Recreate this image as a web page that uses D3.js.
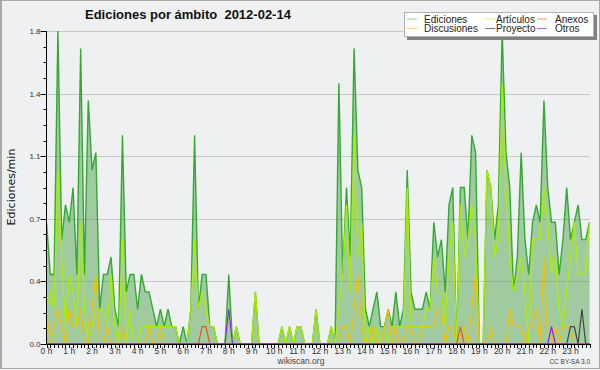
<!DOCTYPE html>
<html>
<head>
<meta charset="utf-8">
<script src="https://cdn.jsdelivr.net/npm/d3@7"></script>
<style>
  body { margin: 0; background: #fff; }
  svg text { font-family: "Liberation Sans", Arial, sans-serif; }
</style>
</head>
<body>
<svg id="chart" width="600" height="370"></svg>
<script>
// edits per minute, one value every 10 minutes (00:00 .. 23:50)
const ediciones = [
  0.7,0.4,0.4,1.8,0.6,0.8,0.7,0.9,0.4,1.7,0.4,1.4,1.0,1.1,0.2,0.4,0.4,0.5,0.2,0.1,1.2,0.3,0.4,0.4,
  0.2,0.4,0.3,0.3,0.2,0.1,0.2,0.1,0.2,0.1,0.1,0,0.1,0,0.2,1.2,0.2,0.4,0.4,0.1,0.1,0,0,0,
  0.4,0,0.1,0,0,0,0,0.3,0,0,0,0,0,0,0.1,0,0.1,0,0.1,0.1,0,0,0,0.2,
  0,0,0,0.1,0,1.5,0.4,0.9,0.5,1.7,1.0,0.9,0.2,0.1,0.2,0.3,0.1,0.1,0.2,0.1,0.3,0.1,0.2,1.0,
  0.3,0.2,0.2,0.2,0.3,0.2,0.7,0.5,0.6,0.3,0.8,0.9,0,0.9,0.9,0.6,1.2,1.1,0,0,1.0,0.9,0.6,0.8,
  1.8,1.1,0.9,0.3,0.5,1.1,0.6,0.4,0.7,0.8,0.7,1.4,0.9,0.7,0.7,0.4,0.6,0.9,0.6,0.7,0.8,0.6,0.6,0.7
];
const articulos = [
  0.2,0.3,0.2,1.0,0.5,0.1,0.4,0.3,0.1,0.7,0.2,0,0.1,0.2,0.2,0.2,0.1,0.4,0.1,0,0.6,0,0.2,0,
  0,0.1,0.1,0.1,0.1,0.1,0.1,0.1,0.1,0.1,0.1,0,0,0,0.2,0.6,0.2,0.3,0.2,0.1,0.1,0,0,0,
  0.2,0,0.1,0,0,0,0,0.3,0,0,0,0,0,0,0.1,0,0.1,0,0.1,0.1,0,0,0,0.2,
  0,0,0,0.1,0,0.2,0.4,0.8,0.3,1.2,0.5,0.7,0,0.1,0,0.1,0,0.1,0,0.1,0.1,0.1,0.1,0.9,
  0.1,0.1,0.1,0.1,0.2,0.2,0.5,0.3,0.3,0.1,0.5,0.7,0,0.8,0.5,0.6,0.8,0.6,0,0,1.0,0.9,0.5,0.6,
  1.5,0.9,0.5,0.3,0.4,0.5,0.3,0,0.6,0.6,0.6,0.9,0.7,0.4,0.5,0.2,0.1,0.3,0.5,0.7,0.4,0.4,0.4,0.7
];
const discusiones = [
  0.2,0,0.1,0.2,0.1,0,0.2,0.1,0.1,0.2,0,0,0.2,0.4,0,0,0.1,0,0,0,0.1,0,0,0,
  0,0,0,0.1,0,0,0.1,0,0,0,0,0,0,0,0,0,0,0,0,0,0,0,0,0,
  0,0,0,0,0,0,0,0,0,0,0,0,0,0,0,0,0,0,0,0,0,0,0,0,
  0,0,0,0,0,0,0.1,0.1,0,0.2,0.4,0.1,0,0,0.1,0,0,0.1,0.2,0,0.1,0,0,0.1,
  0.1,0,0,0.1,0.1,0.1,0.1,0.2,0.2,0,0.1,0.1,0,0,0.1,0,0.2,0.4,0,0,0,0.1,0,0,
  0,0,0.2,0.1,0.1,0.1,0,0.1,0.1,0.2,0,0.5,0,0,0.1,0,0.1,0.1,0.1,0,0,0,0,0
];
// sparse series: [slot index, value]
const anexos = [[41, 0.1], [42, 0.1], [109, 0.1]];
const proyecto = [[138, 0.1], [139, 0.1], [141, 0.2]];
const otros = [[48, 0.2], [133, 0.1]];

const yTicks = [0, 0.36, 0.72, 1.08, 1.44, 1.8];
const hourLabels = d3.range(24).map(h => h + " h");

const legendItems = [
  { name: "Ediciones", color: "#8fd08f" },
  { name: "Artículos", color: "#d4f07a" },
  { name: "Anexos", color: "#f7936a" },
  { name: "Discusiones", color: "#f8d860" },
  { name: "Proyecto", color: "#777777" },
  { name: "Otros", color: "#a870f0" }
];

const W = 600, H = 370;
const plot = { left: 46.5, right: 589.5, top: 31, bottom: 344 };

const svg = d3.select("#chart");

svg.append("rect").attr("width", W).attr("height", H).attr("fill", "#eff0f2");
// frame
svg.append("rect").attr("x", 0.5).attr("y", 0.5).attr("width", W - 1).attr("height", H - 2)
  .attr("fill", "none").attr("stroke", "#a8a8a8");
svg.append("line").attr("x1", 1.5).attr("x2", 1.5).attr("y1", 0).attr("y2", H - 1)
  .attr("stroke", "#a8a8a8");
svg.append("line").attr("x1", 0).attr("x2", W).attr("y1", H - 1.5).attr("y2", H - 1.5)
  .attr("stroke", "#a8a8a8");

const x = d3.scaleLinear().domain([0, 143]).range([plot.left, plot.right]);
const y = d3.scaleLinear().domain([0, 1.8]).range([plot.bottom, plot.top]);

// grid
svg.append("g").selectAll("line").data(yTicks.slice(1)).join("line")
  .attr("x1", plot.left).attr("x2", plot.right)
  .attr("y1", d => Math.round(y(d)) + 0.5).attr("y2", d => Math.round(y(d)) + 0.5)
  .attr("stroke", "#c8c8c8");

function dense(pairs) {
  const arr = new Array(ediciones.length).fill(0);
  pairs.forEach(([i, v]) => { arr[i] = v; });
  return arr;
}

const area = d3.area().x((d, i) => x(i)).y0(y(0)).y1(d => y(d));
const line = d3.line().x((d, i) => x(i)).y(d => y(d));

svg.append("path").datum(ediciones).attr("d", area)
  .attr("fill", "#339933").attr("fill-opacity", 0.42);

const series = [
  { data: articulos, color: "#aaee00", width: 1.3 },
  { data: discusiones, color: "#f2c000", width: 1.2 },
  { data: dense(anexos), color: "#ee5511", width: 1.2 },
  { data: dense(proyecto), color: "#444444", width: 1.2 },
  { data: dense(otros), color: "#8822ee", width: 1.2 }
];

svg.append("path").datum(ediciones).attr("d", line)
  .attr("fill", "none").attr("stroke", "#33aa33").attr("stroke-width", 1.4);

series.forEach(s => {
  svg.append("path").datum(s.data).attr("d", line)
    .attr("fill", "none").attr("stroke", s.color).attr("stroke-width", s.width)
    .attr("stroke-linejoin", "miter");
});

// y axis
const yAxis = svg.append("g");
yAxis.append("line").attr("x1", plot.left).attr("x2", plot.left)
  .attr("y1", plot.top).attr("y2", plot.bottom).attr("stroke", "#000");
const yMinor = d3.range(0, 21).map(k => k * 0.09);
yAxis.selectAll(".ym").data(yMinor).join("line")
  .attr("x1", plot.left - 3).attr("x2", plot.left)
  .attr("y1", d => Math.round(y(d)) + 0.5).attr("y2", d => Math.round(y(d)) + 0.5)
  .attr("stroke", "#000");
yAxis.selectAll(".yM").data(yTicks).join("line")
  .attr("x1", plot.left - 6).attr("x2", plot.left)
  .attr("y1", d => Math.round(y(d)) + 0.5).attr("y2", d => Math.round(y(d)) + 0.5)
  .attr("stroke", "#000");
yAxis.selectAll("text").data(yTicks).join("text")
  .attr("x", plot.left - 6).attr("y", d => y(d) + 3)
  .attr("text-anchor", "end").attr("font-size", 8).attr("fill", "#333")
  .text(d => d3.format(".1f")(d));

// x axis
const xAxis = svg.append("g");
xAxis.append("line").attr("x1", plot.left).attr("x2", plot.right + 0.5)
  .attr("y1", plot.bottom + 0.5).attr("y2", plot.bottom + 0.5).attr("stroke", "#000");
xAxis.selectAll(".xm").data(d3.range(144)).join("line")
  .attr("x1", d => Math.round(x(d)) + 0.5).attr("x2", d => Math.round(x(d)) + 0.5)
  .attr("y1", plot.bottom).attr("y2", plot.bottom + 4)
  .attr("stroke", "#000");
xAxis.selectAll("text").data(hourLabels).join("text")
  .attr("x", (d, h) => x(h * 6)).attr("y", plot.bottom + 10)
  .attr("text-anchor", "middle").attr("font-size", 8.5).attr("fill", "#333")
  .text(d => d);

// labels
svg.append("text").attr("x", 85).attr("y", 18.5)
  .attr("font-size", 13).attr("font-weight", "bold").attr("fill", "#111")
  .attr("xml:space", "preserve")
  .text("Ediciones por ámbito  2012-02-14");

svg.append("text").attr("transform", "translate(15,187) rotate(-90)")
  .attr("text-anchor", "middle").attr("font-size", 11).attr("fill", "#111")
  .style("font-family", "DejaVu Sans")
  .text("Ediciones/min");

svg.append("text").attr("x", 301).attr("y", 364)
  .attr("text-anchor", "middle").attr("font-size", 8.5).attr("fill", "#444")
  .text("wikiscan.org");
svg.append("text").attr("x", 590).attr("y", 364)
  .attr("text-anchor", "end").attr("font-size", 6.5).attr("fill", "#444")
  .text("CC BY-SA 3.0");

// legend
const lg = svg.append("g");
lg.append("rect").attr("x", 407).attr("y", 15).attr("width", 190).attr("height", 25)
  .attr("fill", "#808080");
lg.append("rect").attr("x", 404.5).attr("y", 12.5).attr("width", 189).attr("height", 24)
  .attr("fill", "#fff").attr("stroke", "#b0b0b0");
const colX = [407, 485, 537];
const textX = [424, 496, 555];
legendItems.forEach((d, k) => {
  const c = k % 3, r = Math.floor(k / 3);
  const ly = 19 + r * 9.5;
  lg.append("line").attr("x1", colX[c]).attr("x2", colX[c] + 10)
    .attr("y1", ly).attr("y2", ly).attr("stroke", d.color).attr("stroke-width", 1);
  lg.append("text").attr("x", textX[c]).attr("y", ly + 3.5)
    .attr("font-size", 10).attr("fill", "#222").text(d.name);
});
</script>
</body>
</html>
